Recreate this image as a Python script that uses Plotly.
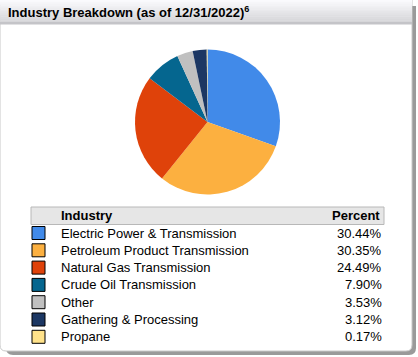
import plotly.graph_objects as go

title_text = "Industry Breakdown (as of 12/31/2022)<sup>6</sup>"
header_labels = ["Industry", "Percent"]
categories = ["Electric Power & Transmission", "Petroleum Product Transmission",
              "Natural Gas Transmission", "Crude Oil Transmission", "Other",
              "Gathering & Processing", "Propane"]
percents = [30.44, 30.35, 24.49, 7.90, 3.53, 3.12, 0.17]
colors = ["#418ae9", "#fcb040", "#df420a", "#05668f", "#c0c0c0", "#1c3763", "#ffe28a"]

W, H = 418, 357
FONT = "Liberation Sans, Arial, sans-serif"

fig = go.Figure()

# Pie
cx, cy, r = 207.5, 122.0, 72.5
fig.add_trace(go.Pie(
    labels=categories, values=percents, sort=False, direction="clockwise",
    rotation=0, marker=dict(colors=colors, line=dict(width=0)),
    textinfo="none", textposition="none", hoverinfo="label+percent", showlegend=False,
    domain=dict(x=[(cx - r) / W, (cx + r) / W], y=[1 - (cy + r) / H, 1 - (cy - r) / H]),
))

shapes = []
# shadow
shapes.append(dict(type="path", path="M 6 6 L 416 6 L 416 348 Q 416 355 409 355 L 13 355 Q 6 355 6 348 Z",
                   fillcolor="#9a9a9a", line=dict(width=0), layer="below"))
# card
shapes.append(dict(type="path", path="M 0 0 L 412 0 L 412 345 Q 412 351 406 351 L 6 351 Q 0 351 0 345 Z",
                   fillcolor="white", line=dict(color="#c8c8c8", width=1), layer="below"))
# title gradient
n = 12
top_c, bot_c = 250, 214
for i in range(n):
    g = int(top_c + (bot_c - top_c) * i / (n - 1))
    shapes.append(dict(type="rect", x0=0, x1=412, y0=i * 22 / n, y1=(i + 1) * 22 / n + 0.3,
                       fillcolor=f"rgb({g},{g},{g+3})", line=dict(width=0), layer="below"))
shapes.append(dict(type="rect", x0=0, x1=412, y0=22, y1=24.5, fillcolor="#c4c4c8",
                   line=dict(width=0), layer="below"))

# table header
shapes.append(dict(type="rect", x0=31, x1=384, y0=207, y1=224.5, fillcolor="#e6e6e6",
                   line=dict(color="#b8b8b8", width=1), layer="below"))

TS = 13
annotations = [
    dict(x=6, y=12, text=f"<b>{title_text}</b>", showarrow=False, xanchor="left", yanchor="middle",
         font=dict(family=FONT, size=13, color="#000"), xref="x", yref="y"),
    dict(x=59, y=215.5, text=f"<b>{header_labels[0]}</b>", showarrow=False, xanchor="left",
         yanchor="middle", font=dict(family=FONT, size=TS, color="#000"), xref="x", yref="y"),
    dict(x=382, y=215.5, text=f"<b>{header_labels[1]}</b>", showarrow=False, xanchor="right",
         yanchor="middle", font=dict(family=FONT, size=TS, color="#000"), xref="x", yref="y"),
]

row0, step = 233.0, 17.3
for i, (cat, pct, col) in enumerate(zip(categories, percents, colors)):
    y = row0 + i * step
    shapes.append(dict(type="rect", x0=32, x1=45, y0=y - 6.5, y1=y + 6.5, fillcolor=col,
                       line=dict(color="#000", width=1)))
    annotations.append(dict(x=59, y=y, text=cat, showarrow=False, xanchor="left", yanchor="middle",
                            font=dict(family=FONT, size=TS, color="#000"), xref="x", yref="y"))
    annotations.append(dict(x=384, y=y, text=f"{pct:.2f}%", showarrow=False, xanchor="right",
                            yanchor="middle", font=dict(family=FONT, size=TS, color="#000"),
                            xref="x", yref="y"))

for s in shapes:
    s.setdefault("xref", "x")
    s.setdefault("yref", "y")

fig.update_layout(
    width=W, height=H, margin=dict(l=0, r=0, t=0, b=0),
    paper_bgcolor="white", plot_bgcolor="rgba(0,0,0,0)",
    xaxis=dict(range=[0, W], visible=False, fixedrange=True),
    yaxis=dict(range=[H, 0], visible=False, fixedrange=True),
    shapes=shapes, annotations=annotations, showlegend=False,
)

fig.write_html("out.html", config={"displayModeBar": False},
               post_script="document.body.style.margin='0';document.body.style.overflow='hidden';")
